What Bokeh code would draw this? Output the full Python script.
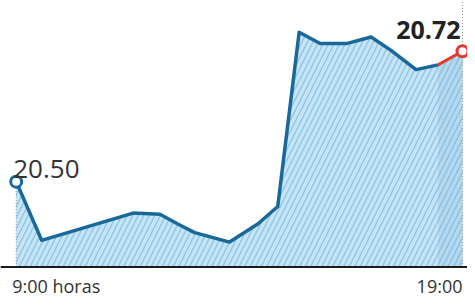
from bokeh.plotting import figure
from bokeh.models import ColumnDataSource, Span
from bokeh.core.properties import value
from bokeh.embed import file_html
from bokeh.resources import INLINE

# Data (hours of day, share price)
hours = [9.0, 9.57, 11.62, 12.22, 12.61, 13.0, 13.78, 14.42, 14.86, 15.34,
         15.81, 16.40, 16.95, 17.39, 17.96, 18.45]
prices = [20.500, 20.401, 20.447, 20.445, 20.429, 20.414, 20.398, 20.429, 20.458, 20.752,
          20.733, 20.733, 20.744, 20.722, 20.689, 20.697]
late_hours = [18.45, 19.0]
late_prices = [20.697, 20.720]
open_label = "20.50"
close_label = "20.72"
tick_hours = [9, 19]
tick_labels = ["9:00 horas", "19:00"]
base_price = 20.356

W, H = 467, 297
p = figure(width=W, height=H, output_backend="svg", toolbar_location=None,
           x_range=(8.648, 19.112), y_range=(20.3045, 20.8057),
           min_border=0, min_border_left=0, min_border_right=0,
           min_border_top=0, min_border_bottom=0)
p.axis.visible = False
p.grid.visible = False
p.outline_line_color = None
p.background_fill_color = "white"
p.border_fill_color = "white"

FONT = value("Open Sans")

# hatched area
src = ColumnDataSource(dict(x=hours, y1=[base_price]*len(hours), y2=prices))
p.varea(x="x", y1="y1", y2="y2", source=src, fill_color="#c6e4f6",
        hatch_pattern="/", hatch_color="#8fc4e4", hatch_scale=11, hatch_weight=1.4)
src2 = ColumnDataSource(dict(x=late_hours, y1=[base_price]*2, y2=late_prices))
p.varea(x="x", y1="y1", y2="y2", source=src2, fill_color="#b4d8ee",
        hatch_pattern="/", hatch_color="#8abedf", hatch_scale=11, hatch_weight=1.4)

# dotted verticals
p.segment(x0=[hours[0]], y0=[base_price], x1=[hours[0]], y1=[prices[0]],
          line_color="#999999", line_dash="1 2", line_width=1)
p.segment(x0=[late_hours[-1]], y0=[base_price], x1=[late_hours[-1]], y1=[20.81],
          line_color="#999999", line_dash="1 2", line_width=1)

# baseline
p.add_layout(Span(location=base_price, dimension="width", line_color="#1a1a1a", line_width=2))

# lines
p.line(hours, prices, line_color="#18689a", line_width=3.5, line_join="round")
p.line(late_hours, late_prices, line_color="#e2392f", line_width=3, line_join="round")

# end markers
p.scatter([hours[0]], [prices[0]], size=11, fill_color="white", line_color="#18689a", line_width=3)
p.scatter([late_hours[-1]], [late_prices[-1]], size=11, fill_color="white", line_color="#e2392f", line_width=3)

# value labels
p.text(x=[hours[0]], y=[prices[0]], text=[open_label], text_font=FONT, text_font_size="26px",
       text_color="#333333", text_align="left", text_baseline="alphabetic",
       x_offset=-3, y_offset=-13)
p.text(x=[late_hours[-1]], y=[late_prices[-1]], text=[close_label], text_font=FONT,
       text_font_size="25px", text_font_style="bold", text_color="#222222",
       text_align="right", text_baseline="alphabetic", x_offset=-2, y_offset=-21)

# tick labels
p.text(x=[tick_hours[0]], y=[base_price], text=[tick_labels[0]], text_font=FONT,
       text_font_size="18px", text_color="#333333", text_align="left",
       text_baseline="alphabetic", x_offset=-4, y_offset=19)
p.text(x=[tick_hours[1]], y=[base_price], text=[tick_labels[1]], text_font=FONT,
       text_font_size="18px", text_color="#333333", text_align="right",
       text_baseline="alphabetic", x_offset=0, y_offset=19)

open("out.html", "w").write(file_html(p, INLINE))
